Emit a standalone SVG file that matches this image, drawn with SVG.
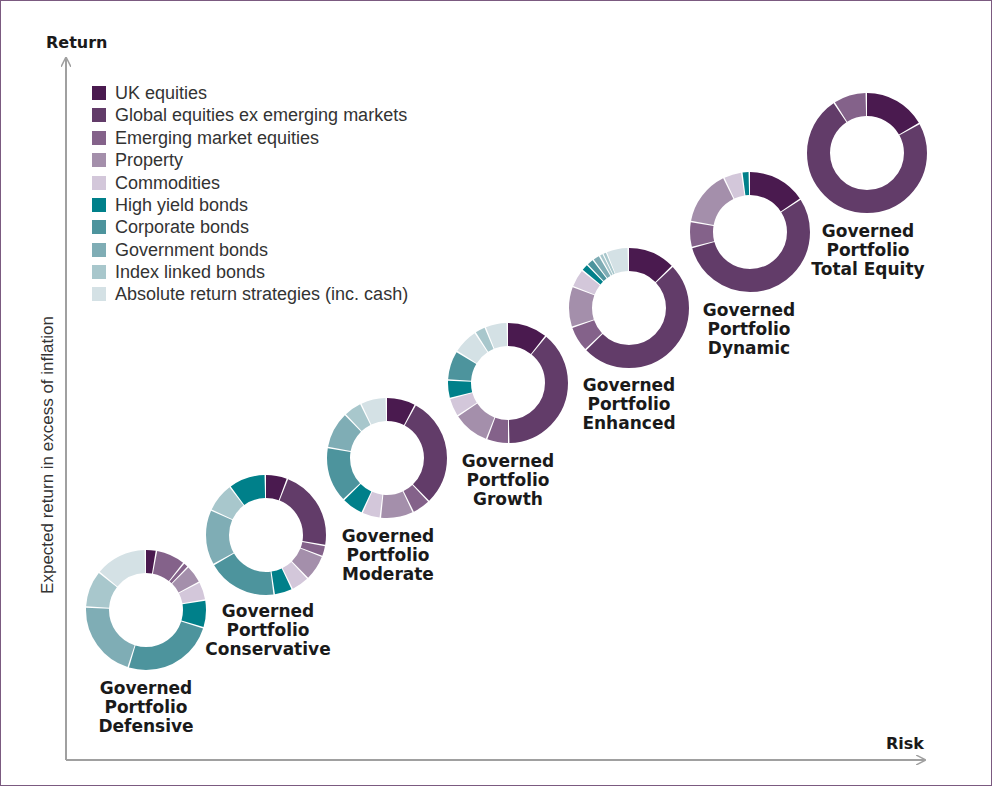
<svg xmlns="http://www.w3.org/2000/svg" width="992" height="786" viewBox="0 0 992 786">
<style>
.s{fill:none;stroke-width:23}
.a{stroke:#4a1a4f}.b{stroke:#623c69}.c{stroke:#84628a}.d{stroke:#a48fab}.e{stroke:#d3c7da}
.f{stroke:#00808a}.g{stroke:#4d949d}.h{stroke:#7fadb5}.i{stroke:#a8c7cc}.j{stroke:#d4e1e5}
.A{fill:#4a1a4f}.B{fill:#623c69}.C{fill:#84628a}.D{fill:#a48fab}.E{fill:#d3c7da}
.F{fill:#00808a}.G{fill:#4d949d}.H{fill:#7fadb5}.I{fill:#a8c7cc}.J{fill:#d4e1e5}
.lg{font-family:"Liberation Sans",Arial,sans-serif;font-size:18px;fill:#333}
.yl{font-family:"Liberation Sans",Arial,sans-serif;font-size:17px;fill:#333}
.lb{font-family:"DejaVu Sans",sans-serif;font-weight:bold;font-size:17px;fill:#1a1a1a;text-anchor:middle}
.ax{font-family:"DejaVu Sans",sans-serif;font-weight:bold;font-size:16px;fill:#1a1a1a}
</style>
<defs><marker id="ar" viewBox="0 0 10 10" refX="9" refY="5" markerWidth="10" markerHeight="10" markerUnits="userSpaceOnUse" orient="auto"><path d="M0,0 L10,5 L0,10" fill="none" stroke="#a0a0a0" stroke-width="1.5"/></marker></defs>
<rect x="0.5" y="0.5" width="991" height="785" fill="#fff" stroke="#7b5a80"/>
<g id="axes" fill="none" stroke="#a0a0a0" stroke-width="2">
<line x1="66" y1="760" x2="66" y2="58" marker-end="url(#ar)"/>
<line x1="66" y1="760" x2="925" y2="760" marker-end="url(#ar)"/>
</g>
<text class="ax" x="46" y="48">Return</text>
<text class="ax" x="886" y="749">Risk</text>
<text class="yl" transform="translate(53,455) rotate(-90)" text-anchor="middle">Expected return in excess of inflation</text>
<g id="legend">
<rect class="A" x="92" y="86" width="14" height="14"/><text class="lg" x="115" y="99">UK equities</text>
<rect class="B" x="92" y="108" width="14" height="14"/><text class="lg" x="115" y="121">Global equities ex emerging markets</text>
<rect class="C" x="92" y="131" width="14" height="14"/><text class="lg" x="115" y="144">Emerging market equities</text>
<rect class="D" x="92" y="153" width="14" height="14"/><text class="lg" x="115" y="166">Property</text>
<rect class="E" x="92" y="176" width="14" height="14"/><text class="lg" x="115" y="189">Commodities</text>
<rect class="F" x="92" y="198" width="14" height="14"/><text class="lg" x="115" y="211">High yield bonds</text>
<rect class="G" x="92" y="220" width="14" height="14"/><text class="lg" x="115" y="233">Corporate bonds</text>
<rect class="H" x="92" y="243" width="14" height="14"/><text class="lg" x="115" y="256">Government bonds</text>
<rect class="I" x="92" y="265" width="14" height="14"/><text class="lg" x="115" y="278">Index linked bonds</text>
<rect class="J" x="92" y="287" width="14" height="14"/><text class="lg" x="115" y="300">Absolute return strategies (inc. cash)</text>
</g>
<g id="defensive">
<g transform="translate(146,610) rotate(-90)">
<circle class="s a" r="48.5" pathLength="100" stroke-dasharray="2.6 100" stroke-dashoffset="0"/>
<circle class="s c" r="48.5" pathLength="100" stroke-dasharray="7.6 100" stroke-dashoffset="-3"/>
<circle class="s c" r="48.5" pathLength="100" stroke-dasharray="1.1 100" stroke-dashoffset="-11"/>
<circle class="s d" r="48.5" pathLength="100" stroke-dasharray="4.6 100" stroke-dashoffset="-12.5"/>
<circle class="s e" r="48.5" pathLength="100" stroke-dasharray="4.6 100" stroke-dashoffset="-17.5"/>
<circle class="s f" r="48.5" pathLength="100" stroke-dasharray="7.1 100" stroke-dashoffset="-22.5"/>
<circle class="s g" r="48.5" pathLength="100" stroke-dasharray="24.6 100" stroke-dashoffset="-30"/>
<circle class="s h" r="48.5" pathLength="100" stroke-dasharray="20.6 100" stroke-dashoffset="-55"/>
<circle class="s i" r="48.5" pathLength="100" stroke-dasharray="9.6 100" stroke-dashoffset="-76"/>
<circle class="s j" r="48.5" pathLength="100" stroke-dasharray="13.6 100" stroke-dashoffset="-86"/>
</g>
<text class="lb" x="146" y="694">Governed</text><text class="lb" x="146" y="713">Portfolio</text><text class="lb" x="146" y="732">Defensive</text>
</g>
<g id="conservative">
<g transform="translate(266,535) rotate(-90)">
<circle class="s a" r="48.5" pathLength="100" stroke-dasharray="5.6 100" stroke-dashoffset="0"/>
<circle class="s b" r="48.5" pathLength="100" stroke-dasharray="21.6 100" stroke-dashoffset="-6"/>
<circle class="s c" r="48.5" pathLength="100" stroke-dasharray="2.6 100" stroke-dashoffset="-28"/>
<circle class="s d" r="48.5" pathLength="100" stroke-dasharray="6.6 100" stroke-dashoffset="-31"/>
<circle class="s e" r="48.5" pathLength="100" stroke-dasharray="4.6 100" stroke-dashoffset="-38"/>
<circle class="s f" r="48.5" pathLength="100" stroke-dasharray="4.6 100" stroke-dashoffset="-43"/>
<circle class="s g" r="48.5" pathLength="100" stroke-dasharray="18.6 100" stroke-dashoffset="-48"/>
<circle class="s h" r="48.5" pathLength="100" stroke-dasharray="14.6 100" stroke-dashoffset="-67"/>
<circle class="s i" r="48.5" pathLength="100" stroke-dasharray="7.6 100" stroke-dashoffset="-82"/>
<circle class="s f" r="48.5" pathLength="100" stroke-dasharray="9.6 100" stroke-dashoffset="-90"/>
</g>
<text class="lb" x="268" y="617">Governed</text><text class="lb" x="268" y="636">Portfolio</text><text class="lb" x="268" y="655">Conservative</text>
</g>
<g id="moderate">
<g transform="translate(387,458) rotate(-90)">
<circle class="s a" r="48.5" pathLength="100" stroke-dasharray="7.6 100" stroke-dashoffset="0"/>
<circle class="s b" r="48.5" pathLength="100" stroke-dasharray="29.6 100" stroke-dashoffset="-8"/>
<circle class="s c" r="48.5" pathLength="100" stroke-dasharray="4.6 100" stroke-dashoffset="-38"/>
<circle class="s d" r="48.5" pathLength="100" stroke-dasharray="8.6 100" stroke-dashoffset="-43"/>
<circle class="s e" r="48.5" pathLength="100" stroke-dasharray="4.6 100" stroke-dashoffset="-52"/>
<circle class="s f" r="48.5" pathLength="100" stroke-dasharray="5.6 100" stroke-dashoffset="-57"/>
<circle class="s g" r="48.5" pathLength="100" stroke-dasharray="14.6 100" stroke-dashoffset="-63"/>
<circle class="s h" r="48.5" pathLength="100" stroke-dasharray="9.6 100" stroke-dashoffset="-78"/>
<circle class="s i" r="48.5" pathLength="100" stroke-dasharray="4.6 100" stroke-dashoffset="-88"/>
<circle class="s j" r="48.5" pathLength="100" stroke-dasharray="6.6 100" stroke-dashoffset="-93"/>
</g>
<text class="lb" x="388" y="542">Governed</text><text class="lb" x="388" y="561">Portfolio</text><text class="lb" x="388" y="580">Moderate</text>
</g>
<g id="growth">
<g transform="translate(508,383) rotate(-90)">
<circle class="s a" r="48.5" pathLength="100" stroke-dasharray="10.6 100" stroke-dashoffset="0"/>
<circle class="s b" r="48.5" pathLength="100" stroke-dasharray="38.6 100" stroke-dashoffset="-11"/>
<circle class="s c" r="48.5" pathLength="100" stroke-dasharray="5.6 100" stroke-dashoffset="-50"/>
<circle class="s d" r="48.5" pathLength="100" stroke-dasharray="9.6 100" stroke-dashoffset="-56"/>
<circle class="s e" r="48.5" pathLength="100" stroke-dasharray="4.6 100" stroke-dashoffset="-66"/>
<circle class="s f" r="48.5" pathLength="100" stroke-dasharray="4.6 100" stroke-dashoffset="-71"/>
<circle class="s g" r="48.5" pathLength="100" stroke-dasharray="7.6 100" stroke-dashoffset="-76"/>
<circle class="s j" r="48.5" pathLength="100" stroke-dasharray="6.6 100" stroke-dashoffset="-84"/>
<circle class="s i" r="48.5" pathLength="100" stroke-dasharray="2.6 100" stroke-dashoffset="-91"/>
<circle class="s j" r="48.5" pathLength="100" stroke-dasharray="5.6 100" stroke-dashoffset="-94"/>
</g>
<text class="lb" x="508" y="467">Governed</text><text class="lb" x="508" y="486">Portfolio</text><text class="lb" x="508" y="505">Growth</text>
</g>
<g id="enhanced">
<g transform="translate(629,308) rotate(-90)">
<circle class="s a" r="48.5" pathLength="100" stroke-dasharray="12.6 100" stroke-dashoffset="0"/>
<circle class="s b" r="48.5" pathLength="100" stroke-dasharray="49.6 100" stroke-dashoffset="-13"/>
<circle class="s c" r="48.5" pathLength="100" stroke-dasharray="6.6 100" stroke-dashoffset="-63"/>
<circle class="s d" r="48.5" pathLength="100" stroke-dasharray="10.6 100" stroke-dashoffset="-70"/>
<circle class="s e" r="48.5" pathLength="100" stroke-dasharray="4.6 100" stroke-dashoffset="-81"/>
<circle class="s f" r="48.5" pathLength="100" stroke-dasharray="1.6 100" stroke-dashoffset="-86"/>
<circle class="s g" r="48.5" pathLength="100" stroke-dasharray="1.6 100" stroke-dashoffset="-88"/>
<circle class="s h" r="48.5" pathLength="100" stroke-dasharray="1.6 100" stroke-dashoffset="-90"/>
<circle class="s i" r="48.5" pathLength="100" stroke-dasharray="0.7 100" stroke-dashoffset="-92"/>
<circle class="s i" r="48.5" pathLength="100" stroke-dasharray="0.7 100" stroke-dashoffset="-93"/>
<circle class="s j" r="48.5" pathLength="100" stroke-dasharray="5.6 100" stroke-dashoffset="-94"/>
</g>
<text class="lb" x="629" y="391">Governed</text><text class="lb" x="629" y="410">Portfolio</text><text class="lb" x="629" y="429">Enhanced</text>
</g>
<g id="dynamic">
<g transform="translate(750,232) rotate(-90)">
<circle class="s a" r="48.5" pathLength="100" stroke-dasharray="15.6 100" stroke-dashoffset="0"/>
<circle class="s b" r="48.5" pathLength="100" stroke-dasharray="54.6 100" stroke-dashoffset="-16"/>
<circle class="s c" r="48.5" pathLength="100" stroke-dasharray="6.6 100" stroke-dashoffset="-71"/>
<circle class="s d" r="48.5" pathLength="100" stroke-dasharray="14.6 100" stroke-dashoffset="-78"/>
<circle class="s e" r="48.5" pathLength="100" stroke-dasharray="4.6 100" stroke-dashoffset="-93"/>
<circle class="s f" r="48.5" pathLength="100" stroke-dasharray="1.6 100" stroke-dashoffset="-98"/>
</g>
<text class="lb" x="749" y="316">Governed</text><text class="lb" x="749" y="335">Portfolio</text><text class="lb" x="749" y="354">Dynamic</text>
</g>
<g id="totalequity">
<g transform="translate(867,153) rotate(-90)">
<circle class="s a" r="48.5" pathLength="100" stroke-dasharray="16.6 100" stroke-dashoffset="0"/>
<circle class="s b" r="48.5" pathLength="100" stroke-dasharray="73.6 100" stroke-dashoffset="-17"/>
<circle class="s c" r="48.5" pathLength="100" stroke-dasharray="8.6 100" stroke-dashoffset="-91"/>
</g>
<text class="lb" x="868" y="237">Governed</text><text class="lb" x="868" y="256">Portfolio</text><text class="lb" x="868" y="275">Total Equity</text>
</g>
</svg>
